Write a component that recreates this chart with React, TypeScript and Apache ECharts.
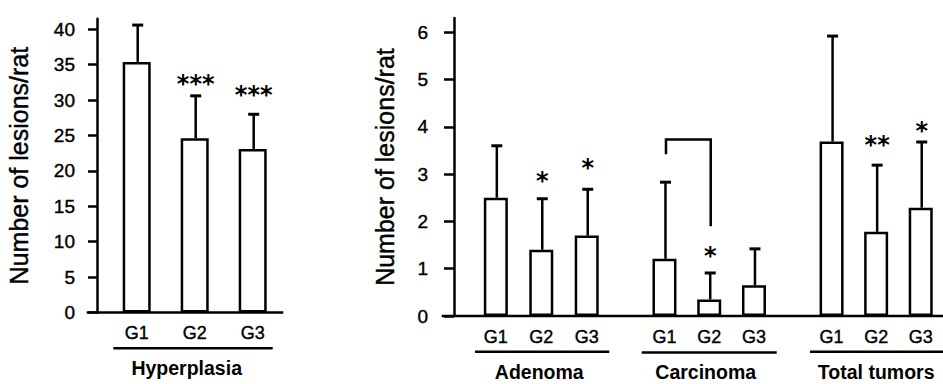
import React, { useEffect, useRef } from 'react';
import * as echarts from 'echarts';

// ---------- data ----------
const groupLabels = ['G1', 'G2', 'G3'];
const panelNames = ['Hyperplasia', 'Adenoma', 'Carcinoma', 'Total tumors'];
const yAxisTitle = 'Number of lesions/rat';
const leftTicks = [0, 5, 10, 15, 20, 25, 30, 35, 40];
const rightTicks = [0, 1, 2, 3, 4, 5, 6];

const hyperplasiaMean = [35.4, 24.6, 23.1];
const hyperplasiaSD = [5.2, 6.0, 4.9];
const adenomaMean = [2.5, 1.4, 1.7];
const adenomaSD = [1.1, 1.08, 0.98];
const carcinomaMean = [1.21, 0.35, 0.65];
const carcinomaSD = [1.62, 0.56, 0.77];
const totalMean = [3.69, 1.78, 2.29];
const totalSD = [2.23, 1.41, 1.39];

// significance marks and the level at which each is drawn
const hyperplasiaStars = ['', '***', '***'];
const hyperplasiaStarLevel = [0, 32.9, 31.3];
const adenomaStars = ['', '*', '*'];
const adenomaStarLevel = [0, 2.95, 3.23];
const carcinomaStars = ['', '*', ''];
const carcinomaStarLevel = [0, 1.36, 0];
const totalStars = ['', '**', '*'];
const totalStarLevel = [0, 3.71, 4.0];

// comparison bracket in Carcinoma panel: [G1 leg end, bar level, G2 leg end]
const bracketLevels = [3.42, 3.73, 1.9];

const leftMax = 41.5;
const rightMax = 6.3;

// ---------- layout ----------
const FONT = 'Liberation Sans, Arial, Helvetica, sans-serif';
const INK = '#000';
const HEAVY = { textBorderColor: '#000', textBorderWidth: 0.4 };
const L = { left: 107.7, top: 18.7, width: 174, height: 293.8 };
const RTOP = 18.1;
const RH = 297.9;
const R = [
  { left: 473.1, width: 136.35 },
  { left: 642.1, width: 134.25 },
  { left: 809.3, width: 133.7 },
];

function starItems(stars: string[], lv: number[]) {
  return stars.map((s, k) => [k, lv[k], s]).filter((d) => d[2] !== '');
}

function buildOption() {
  const grids = [
    { ...L, outerBoundsMode: 'none', containLabel: false },
    ...R.map((r) => ({ left: r.left, width: r.width, top: RTOP, height: RH, outerBoundsMode: 'none', containLabel: false })),
  ];

  const namePads = [[0, 16, 0, 0], [0, 4, 0, 0], [0, 7, 0, 0], [0, 0, 0, 0]];
  const xAxes = grids.map((_, i) => ({
    type: 'category',
    gridIndex: i,
    data: groupLabels,
    axisLine: { show: false },
    axisTick: { show: false },
    axisLabel: { color: INK, fontSize: 18, fontFamily: FONT, margin: 11.5, ...HEAVY },
    name: panelNames[i],
    nameLocation: 'middle',
    nameGap: 45.5,
    nameMoveOverlap: false,
    nameTextStyle: { color: INK, fontSize: 19.5, fontWeight: 'bold', fontFamily: FONT, padding: namePads[i] },
  }));

  const axisCommon = (ticks: number[], len: number, margin: number) => ({
    splitLine: { show: false },
    axisLine: { show: true, lineStyle: { color: '#000', width: 2.5 } },
    axisTick: { show: true, length: len, lineStyle: { color: '#000', width: 2.5 }, customValues: ticks },
    axisLabel: { color: INK, fontSize: 19, fontFamily: FONT, margin, customValues: ticks, ...HEAVY },
    name: yAxisTitle,
    nameLocation: 'middle',
    nameRotate: 90,
    nameMoveOverlap: false,
    nameTextStyle: { color: INK, fontSize: 25, fontFamily: FONT, ...HEAVY },
  });

  const yAxes: any[] = [
    { type: 'value', gridIndex: 0, min: 0, max: leftMax, offset: L.left - 97, nameGap: 66, ...axisCommon(leftTicks, 9, 22) },
    { type: 'value', gridIndex: 1, min: 0, max: rightMax, offset: R[0].left - 454, nameGap: 56.5, ...axisCommon(rightTicks, 10, 26) },
    { type: 'value', gridIndex: 2, min: 0, max: rightMax, show: false, splitLine: { show: false } },
    { type: 'value', gridIndex: 3, min: 0, max: rightMax, show: false, splitLine: { show: false } },
  ];

  const panels = [
    { mean: hyperplasiaMean, sd: hyperplasiaSD, stars: hyperplasiaStars, lv: hyperplasiaStarLevel, bw: 28 },
    { mean: adenomaMean, sd: adenomaSD, stars: adenomaStars, lv: adenomaStarLevel, bw: 24 },
    { mean: carcinomaMean, sd: carcinomaSD, stars: carcinomaStars, lv: carcinomaStarLevel, bw: 24 },
    { mean: totalMean, sd: totalSD, stars: totalStars, lv: totalStarLevel, bw: 24 },
  ];

  const series: any[] = [];
  panels.forEach((p, i) => {
    series.push({
      type: 'bar',
      xAxisIndex: i,
      yAxisIndex: i,
      data: p.mean,
      barWidth: p.bw,
      z: 2,
      itemStyle: { color: '#fff', borderColor: '#000', borderWidth: 2.5 },
      emphasis: { disabled: true },
    });
    series.push({
      type: 'custom',
      xAxisIndex: i,
      yAxisIndex: i,
      z: 3,
      silent: true,
      data: p.mean.map((m, k) => [k, m, p.sd[k]]),
      renderItem: (_params: any, api: any) => {
        const k = api.value(0);
        const m = api.value(1);
        const s = api.value(2);
        const b = api.coord([k, m]);
        const t = api.coord([k, m + s]);
        const x = b[0] + 1;
        return {
          type: 'group',
          children: [
            { type: 'line', shape: { x1: x, y1: b[1], x2: x, y2: t[1] }, style: { stroke: '#000', lineWidth: 2.5 } },
            { type: 'line', shape: { x1: x - 5.5, y1: t[1], x2: x + 5.5, y2: t[1] }, style: { stroke: '#000', lineWidth: 3 } },
          ],
        };
      },
    });
    const items = starItems(p.stars, p.lv);
    series.push({
      type: 'custom',
      xAxisIndex: i,
      yAxisIndex: i,
      z: 4,
      silent: true,
      data: items,
      renderItem: (params: any, api: any) => {
        const d = items[params.dataIndex];
        const c = api.coord([d[0], d[1]]);
        return {
          type: 'text',
          x: c[0] + 1,
          y: c[1] + 4.5,
          style: {
            text: d[2],
            fill: INK,
            fontSize: 24,
            fontWeight: 'bold',
            fontFamily: 'DejaVu Sans, sans-serif',
            align: 'center',
            verticalAlign: 'middle',
          },
        };
      },
    });
  });

  // bracket in Carcinoma panel
  series.push({
    type: 'custom',
    xAxisIndex: 2,
    yAxisIndex: 2,
    z: 4,
    silent: true,
    data: [[0, bracketLevels[1]]],
    renderItem: (_params: any, api: any) => {
      const p1 = api.coord([0, bracketLevels[0]]);
      const p2 = api.coord([0, bracketLevels[1]]);
      const p3 = api.coord([1, bracketLevels[1]]);
      const p4 = api.coord([1, bracketLevels[2]]);
      return {
        type: 'polyline',
        shape: { points: [[p1[0] + 1.5, p1[1]], [p2[0] + 1.5, p2[1]], [p3[0] + 1.5, p3[1]], [p4[0] + 1.5, p4[1]]] },
        style: { stroke: '#000', lineWidth: 2.5, fill: null },
      };
    },
  });

  const leftZero = L.top + L.height;
  const rightZero = RTOP + RH;
  const ul = (x1: number, x2: number, y: number) => ({
    type: 'line',
    silent: true,
    z: 10,
    shape: { x1, y1: y, x2, y2: y },
    style: { stroke: '#000', lineWidth: 2.5 },
  });
  const graphic = [
    // baselines
    ul(86.7, 283.3, leftZero),
    ul(441.7, 943, rightZero),
    // group underlines
    ul(113.3, 272.7, 348.3),
    ul(475, 609.3, 351.7),
    ul(641.7, 776.7, 352.5),
    ul(810, 943, 351.7),
  ];

  return {
    animation: false,
    backgroundColor: '#fff',
    grid: grids,
    xAxis: xAxes,
    yAxis: yAxes,
    series,
    graphic,
  };
}

export default function App() {
  const ref = useRef<HTMLDivElement>(null);
  useEffect(() => {
    if (!ref.current) return;
    const chart = echarts.init(ref.current, null, { renderer: 'svg' });
    chart.setOption(buildOption() as any);
    return () => chart.dispose();
  }, []);
  return (
    <div
      ref={ref}
      style={{ position: 'absolute', left: 0, top: 0, width: 943, height: 384, background: '#fff' }}
    />
  );
}
